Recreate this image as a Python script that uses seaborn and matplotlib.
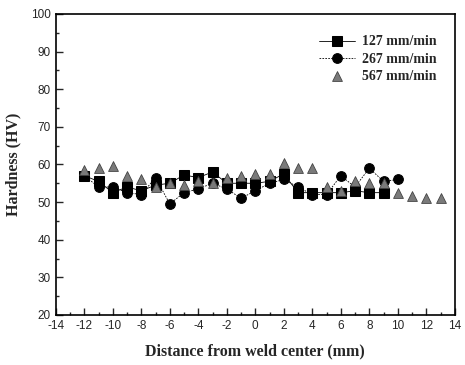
import matplotlib
matplotlib.use("Agg")
import matplotlib.pyplot as plt
import seaborn as sns
from matplotlib.ticker import MultipleLocator

# distance from weld center (mm)
x_127 = [-12, -11, -10, -9, -8, -7, -6, -5, -4, -3, -2, -1, 0, 1, 2, 3, 4, 5, 6, 7, 8, 9]
hv_127 = [57, 55.5, 52.5, 54, 53, 54.5, 55, 57.2, 56.5, 58, 55, 55, 55, 55.5, 57.5,
          52.5, 52.5, 52.5, 52.5, 53, 52.5, 52.5]

x_267 = [-12, -11, -10, -9, -8, -7, -6, -5, -4, -3, -2, -1, 0, 1, 2, 3, 4, 5, 6, 7, 8, 9, 10]
hv_267 = [57, 54, 54, 52.5, 52, 56.5, 49.5, 52.5, 53.5, 55, 53.5, 51, 53, 55, 56,
          54, 52, 52, 57, 54, 59, 55.5, 56]

x_567 = [-12, -11, -10, -9, -8, -7, -6, -5, -4, -3, -2, -1, 0, 1, 2, 3, 4, 5, 6,
         7, 8, 9, 10, 11, 12, 13]
hv_567 = [58.5, 59, 59.5, 57, 56, 54, 55, 54.5, 55.5, 55, 56.5, 57, 57.5, 57.5, 60.5,
          59, 59, 54, 53, 55.5, 55, 55, 52.5, 51.5, 51, 51]

labels = ["127 mm/min", "267 mm/min", "567 mm/min"]

sns.set_style("ticks")
plt.rcParams['font.family'] = ['Liberation Sans', 'DejaVu Sans']
plt.rcParams['axes.unicode_minus'] = False

fig = plt.figure(figsize=(4.65, 3.65), dpi=100)
ax = fig.add_axes([0.120, 0.137, 0.858, 0.825])

sns.lineplot(x=x_127, y=hv_127, ax=ax, color='black', lw=0.6, marker='s',
             markersize=6.5, markeredgecolor='black', label=labels[0])
sns.lineplot(x=x_267, y=hv_267, ax=ax, color='black', lw=0.6, linestyle=(0, (2, 1.5)),
             marker='o', markersize=7, markeredgecolor='black', label=labels[1])
sns.scatterplot(x=x_567, y=hv_567, ax=ax, color='#7a7a7a', marker='^', s=50,
                edgecolor='#444444', linewidth=0.6, label=labels[2], zorder=3)

ax.set_xlim(-14, 14)
ax.set_ylim(20, 100)
ax.xaxis.set_major_locator(MultipleLocator(2))
ax.xaxis.set_minor_locator(MultipleLocator(1))
ax.yaxis.set_major_locator(MultipleLocator(10))
ax.yaxis.set_minor_locator(MultipleLocator(5))
ax.tick_params(which='both', direction='in', top=False, right=False, width=1)
ax.tick_params(which='major', length=5, labelsize=8.5)
ax.tick_params(which='minor', length=2.5)
for s in ax.spines.values():
    s.set_linewidth(1.2)
    s.set_color('black')

ax.set_xlabel("Distance from weld center (mm)", family='Liberation Serif',
              fontweight='bold', fontsize=11.5, labelpad=8)
ax.set_ylabel("Hardness (HV)", family='Liberation Serif', fontweight='bold',
              fontsize=11.5, labelpad=7)

leg = ax.legend(loc='upper right', bbox_to_anchor=(0.985, 0.97), frameon=False,
                prop={'family': 'Liberation Serif', 'weight': 'bold', 'size': 10},
                handlelength=2.6, labelspacing=0.3, handletextpad=0.5)

fig.savefig("out.png", dpi=100)
